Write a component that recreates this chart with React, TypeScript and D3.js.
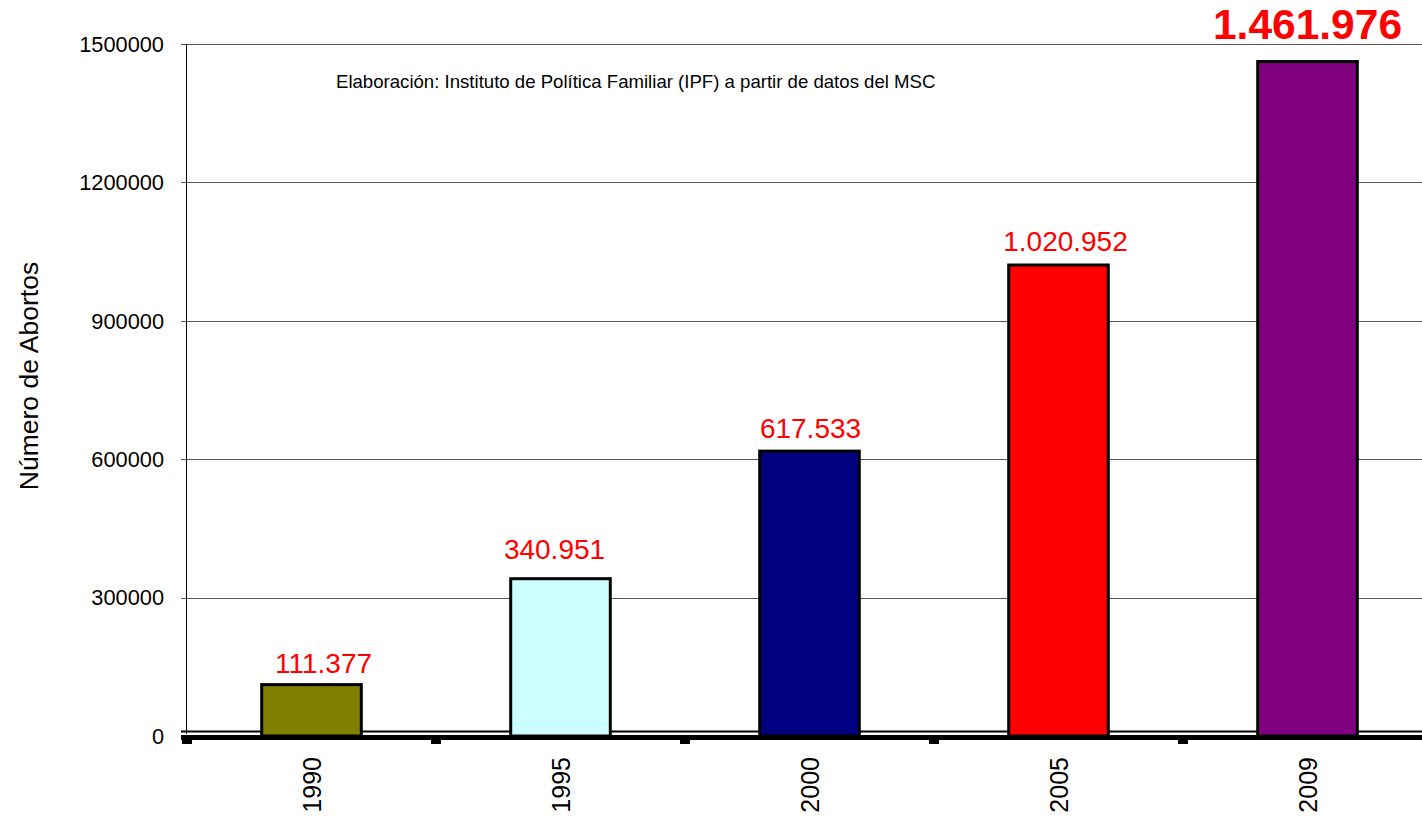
import React from "react";
import * as d3 from "d3";

const categories = ["1990", "1995", "2000", "2005", "2009"];
const values = [111377, 340951, 617533, 1020952, 1461976];
const labels = ["111.377", "340.951", "617.533", "1.020.952", "1.461.976"];
const colors = ["#808000", "#CCFFFF", "#000080", "#FF0000", "#800080"];
const yTicks = [0, 300000, 600000, 900000, 1200000, 1500000];

const W = 1422;
const H = 816;
const left = 187;
const right = 1432;
const top = 44;
const zeroY = 736;
const font = "'Liberation Sans', Arial, sans-serif";

export default function App() {
  const x = d3.scaleBand<string>().domain(categories).range([left, right]).paddingInner(0.6).paddingOuter(0.3);
  const y = d3.scaleLinear().domain([0, 1500000]).range([zeroY, top]);
  const step = x.step();
  const bounds = d3.range(categories.length).map((i) => left + i * step);
  // hand-placed label nudges in the original (text boxes)
  const nudgeX = [12, -6, 1, 7, 0];
  const nudgeY = [-12, -20, -13, -14, 0];

  return (
    <svg width={W} height={H} style={{ position: "absolute", left: 0, top: 0, background: "#fff" }} fontFamily={font}>
      <rect x={0} y={0} width={W} height={H} fill="#fff" />
      {yTicks.filter((t) => t > 0).map((t) => (
        <line key={t} x1={left - 6} x2={W} y1={Math.round(y(t)) + 0.5} y2={Math.round(y(t)) + 0.5} stroke="#555" strokeWidth={1} />
      ))}
      <line x1={left - 6} x2={W} y1={731.5} y2={731.5} stroke="#000" strokeWidth={2} />
      <line x1={left - 0.5} x2={left - 0.5} y1={top} y2={734} stroke="#000" strokeWidth={1} />
      {yTicks.map((t) => (
        <text key={t} x={164} y={y(t)} dy="0.36em" textAnchor="end" fontSize={21.8} fill="#000">
          {t}
        </text>
      ))}
      {categories.map((c, i) => (
        <rect
          key={c}
          x={x(c)!}
          y={y(values[i])}
          width={x.bandwidth()}
          height={zeroY - y(values[i])}
          fill={colors[i]}
          stroke="#000"
          strokeWidth={3}
        />
      ))}
      <line x1={left - 6} x2={W} y1={737.5} y2={737.5} stroke="#000" strokeWidth={5} />
      {bounds.map((b, i) => (
        <rect key={i} x={b - 5} y={739} width={10} height={5} fill="#000" />
      ))}
      {categories.map((c, i) => {
        const cx = x(c)! + x.bandwidth() / 2 + nudgeX[i];
        const last = i === categories.length - 1;
        return (
          <text
            key={c}
            x={cx}
            y={last ? 39 : y(values[i]) + nudgeY[i]}
            textAnchor="middle"
            fontSize={last ? 42.5 : 28}
            fontWeight={last ? "bold" : "normal"}
            fill="#FF0000"
          >
            {labels[i]}
          </text>
        );
      })}
      {categories.map((c) => {
        const cx = x(c)! + x.bandwidth() / 2;
        return (
          <text
            key={c}
            transform={`translate(${cx + 9},757) rotate(-90)`}
            textAnchor="end"
            fontSize={25}
            fill="#000"
          >
            {c}
          </text>
        );
      })}
      <text transform="translate(38,376) rotate(-90)" textAnchor="middle" fontSize={26.5} fill="#000">
        Número de Abortos
      </text>
      <text x={336} y={88} fontSize={18.6} fill="#000">
        Elaboración: Instituto de Política Familiar (IPF) a partir de datos del MSC
      </text>
    </svg>
  );
}
